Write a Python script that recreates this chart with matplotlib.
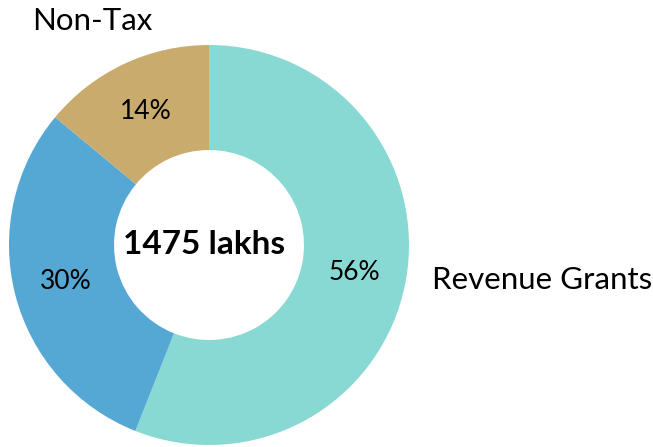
import matplotlib
matplotlib.use("Agg")
import matplotlib.pyplot as plt

plt.rcParams["font.family"] = ["Lato", "DejaVu Sans"]

labels = ["Revenue Grants", "", "Non-Tax"]
values = [826, 443, 206]
colors = ["#88D8D3", "#56A8D4", "#CAAB6E"]
total_text = "1475 lakhs"

fig = plt.figure(figsize=(6.53, 4.47), dpi=100)
ax = fig.add_axes([0, 0, 1, 1])

wedges, texts, autotexts = ax.pie(
    values,
    colors=colors,
    startangle=90,
    counterclock=False,
    center=(209, 202),
    radius=200,
    autopct="%1.0f%%",
    pctdistance=0.74,
    wedgeprops=dict(width=105, linewidth=0),
    textprops=dict(fontsize=19),
)

for t in autotexts:
    t.set_color("black")

ax.text(204, 202, total_text, ha="center", va="center", fontsize=24, fontweight="bold")
ax.text(432, 167, labels[0], ha="left", va="center", fontsize=22.5)
ax.text(92, 426, labels[2], ha="center", va="center", fontsize=22.5)

ax.set_xlim(0, 653)
ax.set_ylim(0, 447)
ax.set_aspect("equal")
ax.axis("off")

plt.savefig("out.png", dpi=100)
plt.close()
